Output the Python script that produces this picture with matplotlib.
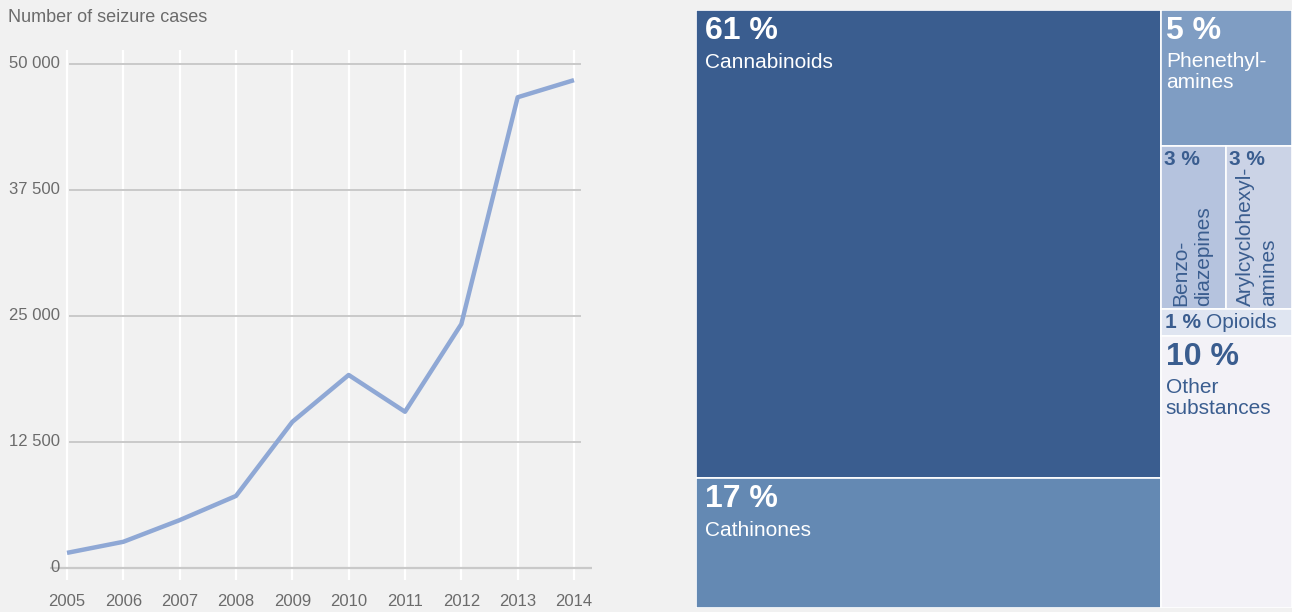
import matplotlib
matplotlib.use("Agg")
import matplotlib.pyplot as plt
from matplotlib.patches import Rectangle

plt.rcParams['font.family'] = ['Liberation Sans', 'DejaVu Sans']

# line chart data
years = [2005, 2006, 2007, 2008, 2009, 2010, 2011, 2012, 2013, 2014]
cases = [1500, 2600, 4750, 7150, 14500, 19150, 15500, 24200, 46700, 48400]
y_ticks = [0, 12500, 25000, 37500, 50000]
y_tick_labels = ["0", "12 500", "25 000", "37 500", "50 000"]

# treemap data (percent of seizures)
groups = ["Cannabinoids", "Cathinones", "Phenethyl-\namines", "Benzo-\ndiazepines",
          "Arylcyclohexyl-\namines", "Opioids", "Other\nsubstances"]
shares = [61, 17, 5, 3, 3, 1, 10]
colors = ["#3a5d8f", "#6489b3", "#7f9dc3", "#b5c3de", "#cbd3e6", "#dfe5f1", "#f3f2f7"]

bg = "#f1f1f1"
grey_txt = "#6b6b6b"
dark_blue = "#3a5d8f"

fig = plt.figure(figsize=(12.92, 6.12), dpi=100)
fig.patch.set_facecolor(bg)
W, H = 1292, 612

# ---- line chart ----
ax = fig.add_axes([50 / W, 1 - 580 / H, 542 / W, 530 / H])
ax.set_facecolor(bg)
for s in ax.spines.values():
    s.set_visible(False)
px_x = 56.33
px_y = 504 / 50000
ax.set_xlim(2005 - 17 / px_x, 2014 + 18 / px_x)
ax.set_ylim(-12 / px_y, 50000 + 14 / px_y)
ax.set_xticks([])
ax.set_yticks([])

for yr in years:
    ax.axvline(yr, color="white", lw=1.6, zorder=1)
for yt in y_ticks[1:]:
    ax.axhline(yt, xmin=20 / 542, xmax=530 / 542, color="#c9c9c9", lw=1.4, zorder=2)
ax.axhline(0, color="#c9c9c9", lw=1.6, zorder=2)

ax.plot(years, cases, color="#8fa8d5", lw=3.2, solid_capstyle="butt", zorder=3)

for yt, lab in zip(y_ticks, y_tick_labels):
    ax.text(10 / 542, yt, lab, transform=ax.get_yaxis_transform(), ha="right",
            va="center", fontsize=12, color=grey_txt)
for yr in years:
    ax.text(yr, -21 / 530, str(yr), transform=ax.get_xaxis_transform(), ha="center",
            va="center", fontsize=12, color=grey_txt)

fig.text(8 / W, 1 - 18 / H, "Number of seizure cases", ha="left", va="center",
         fontsize=13, color=grey_txt)

# ---- treemap ----
tx = fig.add_axes([696 / W, 1 - 608 / H, 596 / W, 598 / H])
tx.set_xlim(0, 100)
tx.set_ylim(100, 0)
tx.axis("off")

total = sum(shares)
left_w = (shares[0] + shares[1]) / total * 100
right_sum = sum(shares[2:])
rects = []
# left column: cannabinoids over cathinones
y0 = 0
for i in (0, 1):
    h = shares[i] / (shares[0] + shares[1]) * 100
    rects.append((0, y0, left_w, h))
    y0 += h
# right column
rw = 100 - left_w
y0 = 0
h = shares[2] / right_sum * 100
rects.append((left_w, y0, rw, h))
y0 += h
h = (shares[3] + shares[4]) / right_sum * 100
w3 = shares[3] / (shares[3] + shares[4]) * rw
rects.append((left_w, y0, w3, h))
rects.append((left_w + w3, y0, rw - w3, h))
y0 += h
for i in (5, 6):
    h = shares[i] / right_sum * 100
    rects.append((left_w, y0, rw, h))
    y0 += h

for (x, y, w, h), c in zip(rects, colors):
    tx.add_patch(Rectangle((x, y), w, h, facecolor=c, edgecolor="white", lw=1.2))


def label(i, dx, pct_size, name_size, name_y, color):
    x, y, w, h = rects[i]
    tx.annotate(f"{shares[i]} %", (x, y), xytext=(dx, -6), textcoords="offset pixels",
                ha="left", va="top", fontsize=pct_size, fontweight="bold", color=color)
    tx.annotate(groups[i], (x, y), xytext=(dx, -name_y), textcoords="offset pixels",
                ha="left", va="top", fontsize=name_size, color=color, linespacing=1.1)


label(0, 9, 23, 15, 43, "white")
label(1, 9, 23, 15, 43, "white")
label(2, 5, 23, 15, 42, "white")
label(6, 5, 23, 15, 42, dark_blue)

for i in (3, 4):
    x, y, w, h = rects[i]
    tx.annotate(f"{shares[i]} %", (x, y), xytext=(3, -4), textcoords="offset pixels",
                ha="left", va="top", fontsize=15, fontweight="bold", color=dark_blue)
    tx.annotate(groups[i], (x, y + h), xytext=(10, 3), textcoords="offset pixels",
                ha="left", va="top", rotation=90, rotation_mode="anchor",
                fontsize=15, color=dark_blue, linespacing=1.25)

x, y, w, h = rects[5]
t1 = tx.annotate(f"{shares[5]} %", (x, y + h / 2), xytext=(4, 0), textcoords="offset pixels",
                 ha="left", va="center", fontsize=15, fontweight="bold", color=dark_blue)
tx.annotate(groups[5], xy=(1, 0), xycoords=t1, xytext=(5, 0), textcoords="offset pixels",
            ha="left", va="bottom", fontsize=15, color=dark_blue)

fig.savefig("out.png", dpi=100, facecolor=bg)
